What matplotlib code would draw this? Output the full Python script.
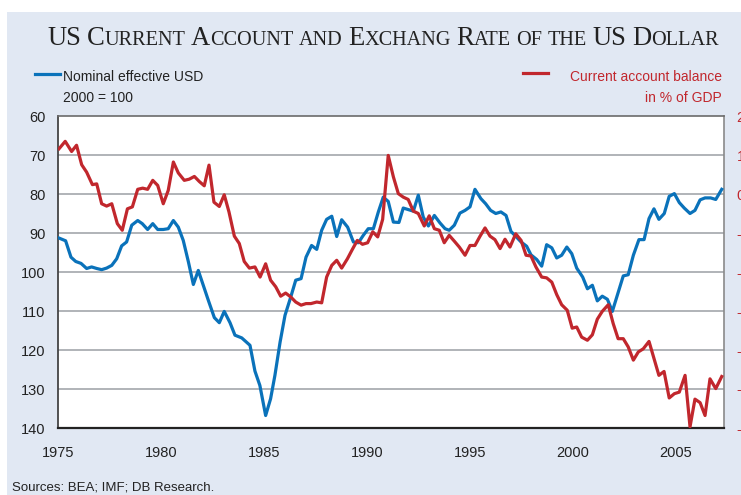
import matplotlib
matplotlib.use('Agg')
import matplotlib.pyplot as plt
from matplotlib.patches import Rectangle

# Nominal effective USD (2000 = 100), left axis, inverted
usd_years = [1975.05, 1975.37, 1975.63, 1975.86, 1976.12, 1976.39, 1976.63, 1976.88, 1977.12, 1977.36,
             1977.61, 1977.85, 1978.09, 1978.33, 1978.58, 1978.87, 1979.09, 1979.35, 1979.6, 1979.84,
             1980.11, 1980.35, 1980.6, 1980.84, 1981.08, 1981.33, 1981.57, 1981.81, 1982.05, 1982.3,
             1982.59, 1982.83, 1983.07, 1983.35, 1983.59, 1983.92, 1984.32, 1984.56, 1984.8, 1985.08,
             1985.32, 1985.53, 1985.78, 1986.02, 1986.3, 1986.54, 1986.8, 1987.04, 1987.31, 1987.56,
             1987.8, 1988.04, 1988.29, 1988.53, 1988.77, 1989.06, 1989.34, 1989.58, 1989.82, 1990.06,
             1990.31, 1990.55, 1990.79, 1991.03, 1991.28, 1991.55, 1991.76, 1992.0, 1992.25, 1992.49,
             1992.73, 1992.98, 1993.27, 1993.54, 1993.79, 1993.99, 1994.24, 1994.51, 1994.76, 1995.0,
             1995.24, 1995.53, 1995.76, 1996.0, 1996.25, 1996.5, 1996.75, 1996.99, 1997.23, 1997.48,
             1997.75, 1997.96, 1998.24, 1998.48, 1998.72, 1998.97, 1999.21, 1999.45, 1999.7, 1999.94,
             2000.18, 2000.47, 2000.7, 2000.94, 2001.18, 2001.42, 2001.67, 2001.91, 2002.15, 2002.44,
             2002.68, 2002.93, 2003.2, 2003.45, 2003.69, 2003.93, 2004.17, 2004.43, 2004.67, 2004.92,
             2005.16, 2005.4, 2005.68, 2005.92, 2006.17, 2006.41, 2006.68, 2006.93, 2007.22]
usd_index = [91.3, 92.0, 96.2, 97.3, 97.8, 99.1, 98.7, 99.1, 99.4, 99.0,
             98.3, 96.6, 93.3, 92.3, 88.0, 86.8, 87.6, 89.1, 87.6, 89.1,
             89.1, 88.9, 86.8, 88.5, 91.9, 97.4, 103.2, 99.6, 103.4, 107.3,
             111.7, 113.0, 110.1, 113.0, 116.2, 116.9, 118.8, 125.4, 129.1, 136.8,
             132.5, 126.5, 118.0, 111.1, 106.4, 102.1, 101.7, 96.2, 93.2, 94.2,
             89.3, 86.5, 85.7, 90.9, 86.6, 88.5, 92.3, 92.5, 90.6, 88.9,
             88.9, 84.6, 80.8, 81.9, 87.2, 87.3, 83.6, 84.0, 84.4, 80.3,
             85.9, 88.2, 85.5, 87.4, 88.9, 89.3, 88.0, 84.9, 84.2, 83.3,
             78.8, 81.2, 82.5, 84.2, 85.0, 84.6, 85.5, 89.6, 90.9, 92.3,
             93.4, 95.6, 96.8, 98.5, 93.0, 93.8, 96.4, 95.7, 93.6, 95.3,
             99.0, 101.3, 104.3, 103.4, 107.4, 106.2, 107.0, 110.1, 106.0, 101.0,
             100.7, 95.7, 91.7, 91.7, 86.3, 83.8, 86.5, 85.0, 80.6, 79.9,
             82.2, 83.6, 85.0, 84.2, 81.5, 81.0, 81.0, 81.4, 78.8]

# Current account balance in % of GDP, right axis
ca_years = [1975.05, 1975.35, 1975.66, 1975.9, 1976.15, 1976.39, 1976.67, 1976.88, 1977.12, 1977.36,
            1977.61, 1977.88, 1978.12, 1978.37, 1978.61, 1978.87, 1979.11, 1979.35, 1979.6, 1979.84,
            1980.11, 1980.35, 1980.6, 1980.84, 1981.13, 1981.37, 1981.62, 1981.86, 1982.1, 1982.33,
            1982.57, 1982.83, 1983.07, 1983.3, 1983.56, 1983.8, 1984.04, 1984.29, 1984.56, 1984.81,
            1985.08, 1985.32, 1985.57, 1985.81, 1986.05, 1986.3, 1986.54, 1986.8, 1987.04, 1987.28,
            1987.56, 1987.8, 1988.04, 1988.29, 1988.53, 1988.77, 1989.05, 1989.29, 1989.53, 1989.78,
            1990.03, 1990.28, 1990.52, 1990.76, 1991.03, 1991.28, 1991.52, 1991.76, 1992.0, 1992.25,
            1992.49, 1992.78, 1993.02, 1993.27, 1993.51, 1993.75, 1993.99, 1994.24, 1994.48, 1994.76,
            1995.0, 1995.24, 1995.49, 1995.73, 1995.97, 1996.21, 1996.46, 1996.7, 1996.94, 1997.22,
            1997.48, 1997.72, 1997.96, 1998.2, 1998.48, 1998.72, 1998.97, 1999.21, 1999.45, 1999.72,
            1999.96, 2000.18, 2000.42, 2000.7, 2000.94, 2001.18, 2001.42, 2001.71, 2001.95, 2002.19,
            2002.44, 2002.68, 2002.93, 2003.17, 2003.41, 2003.69, 2003.93, 2004.17, 2004.42, 2004.67,
            2004.92, 2005.16, 2005.44, 2005.68, 2005.92, 2006.17, 2006.41, 2006.65, 2006.93, 2007.22]
ca_balance = [1.16, 1.35, 1.09, 1.25, 0.75, 0.56, 0.24, 0.26, -0.25, -0.31,
              -0.25, -0.76, -0.93, -0.38, -0.33, 0.12, 0.15, 0.12, 0.35, 0.22,
              -0.25, 0.09, 0.82, 0.54, 0.35, 0.38, 0.45, 0.32, 0.21, 0.74,
              -0.21, -0.32, -0.02, -0.46, -1.08, -1.27, -1.73, -1.90, -1.87, -2.13,
              -1.79, -2.21, -2.38, -2.62, -2.54, -2.64, -2.77, -2.85, -2.81, -2.81,
              -2.77, -2.79, -2.13, -1.83, -1.70, -1.90, -1.66, -1.42, -1.19, -1.29,
              -1.25, -0.97, -1.10, -0.65, 0.99, 0.44, 0.01, -0.08, -0.14, -0.44,
              -0.50, -0.82, -0.56, -0.89, -0.93, -1.25, -1.06, -1.21, -1.36, -1.57,
              -1.32, -1.32, -1.08, -0.87, -1.08, -1.17, -1.40, -1.16, -1.36, -1.02,
              -1.19, -1.57, -1.59, -1.87, -2.13, -2.15, -2.26, -2.58, -2.84, -2.98,
              -3.44, -3.41, -3.67, -3.75, -3.61, -3.21, -3.01, -2.84, -3.32, -3.71,
              -3.71, -3.92, -4.26, -4.05, -3.97, -3.78, -4.22, -4.65, -4.55, -5.23,
              -5.12, -5.08, -4.65, -5.97, -5.26, -5.35, -5.68, -4.74, -4.99, -4.68]

year_ticks = [1975, 1980, 1985, 1990, 1995, 2000, 2005]
usd_ticks = [60, 70, 80, 90, 100, 110, 120, 130, 140]
ca_ticks = [2, 1, 0, -1, -2, -3, -4, -5, -6]

blue = '#0a72ba'
red = '#c1272d'
sans = 'Liberation Sans'

fig = plt.figure(figsize=(7.41, 4.95), dpi=100, facecolor='white')
fig.patches.append(Rectangle((7 / 741, 0), 1, 483 / 495, transform=fig.transFigure,
                             facecolor='#e1e8f3', edgecolor='none', zorder=-10))

ax = fig.add_axes([58 / 741, 67 / 495, 666 / 741, 312 / 495])
ax.set_facecolor('white')
ax.plot(usd_years, usd_index, color=blue, lw=2.3, zorder=3)
ax.set_ylim(140, 60)
ax.set_xlim(1975, 2007.33)
ax.set_yticks(usd_ticks)
ax.set_yticklabels([str(v) for v in usd_ticks], family=sans, fontsize=10.5, color='#222222')
ax.set_xticks(year_ticks)
ax.set_xticklabels([str(v) for v in year_ticks], family=sans, fontsize=10.5, color='#222222')
ax.tick_params(axis='y', length=0, pad=9)
ax.tick_params(axis='x', length=0, pad=13)
for v in usd_ticks[1:-1]:
    ax.axhline(v, color='#a3a7ab', lw=1.2, zorder=1)
ax.spines['left'].set_color('#444444')
ax.spines['left'].set_linewidth(1.3)
ax.spines['bottom'].set_color('#222222')
ax.spines['bottom'].set_linewidth(1.6)
ax.spines['top'].set_color('#6b6b6b')
ax.spines['top'].set_linewidth(1.2)
ax.spines['right'].set_color('#8a8a8a')
ax.spines['right'].set_linewidth(1.2)

ax2 = ax.twinx()
ax2.plot(ca_years, ca_balance, color=red, lw=2.3, zorder=3)
ax2.set_ylim(-6, 2)
ax2.set_yticks(ca_ticks)
ax2.set_yticklabels([str(v) for v in ca_ticks], family=sans, fontsize=10.5, color=red)
ax2.tick_params(axis='y', length=0, pad=9)
for s in ax2.spines.values():
    s.set_visible(False)

# legend-like labels
fig.add_artist(plt.Line2D([35 / 741, 60 / 741], [1 - 74 / 495] * 2, color=blue, lw=2.3))
fig.text(63 / 741, 1 - 77 / 495, 'Nominal effective USD', family=sans, fontsize=10,
         color='#222222', va='center', ha='left')
fig.text(63 / 741, 1 - 98 / 495, '2000 = 100', family=sans, fontsize=10,
         color='#222222', va='center', ha='left')
fig.add_artist(plt.Line2D([523 / 741, 548 / 741], [1 - 73 / 495] * 2, color=red, lw=2.3))
fig.text(722 / 741, 1 - 77 / 495, 'Current account balance', family=sans, fontsize=10,
         color=red, va='center', ha='right')
fig.text(722 / 741, 1 - 98 / 495, 'in % of GDP', family=sans, fontsize=10,
         color=red, va='center', ha='right')

fig.text(12 / 741, 1 - 487 / 495, 'Sources: BEA; IMF; DB Research.', family=sans,
         fontsize=9.5, color='#222222', va='center', ha='left')

# title in small caps, built piece by piece
title = 'US Current Account and Exchang Rate of the US Dollar'
big, small = 19.2, 14.6
renderer = fig.canvas.get_renderer()
pieces = []
x = 0.0
base_y = 1 - 45 / 495
gap = 5.5 / 741
for word in title.split(' '):
    chunks = []
    for ch in word:
        size = big if ch.isupper() else small
        if chunks and chunks[-1][1] == size:
            chunks[-1][0] += ch.upper()
        else:
            chunks.append([ch.upper(), size])
    for txt, size in chunks:
        t = fig.text(x, base_y, txt, family='Liberation Serif', fontsize=size,
                     color='#222222', va='baseline', ha='left')
        w = t.get_window_extent(renderer=renderer).width / fig.bbox.width
        pieces.append(t)
        x += w
    x += gap
x -= gap
shift = 383 / 741 - x / 2
for t in pieces:
    px, py = t.get_position()
    t.set_position((px + shift, py))

fig.savefig('out.png', dpi=100, facecolor=fig.get_facecolor())
